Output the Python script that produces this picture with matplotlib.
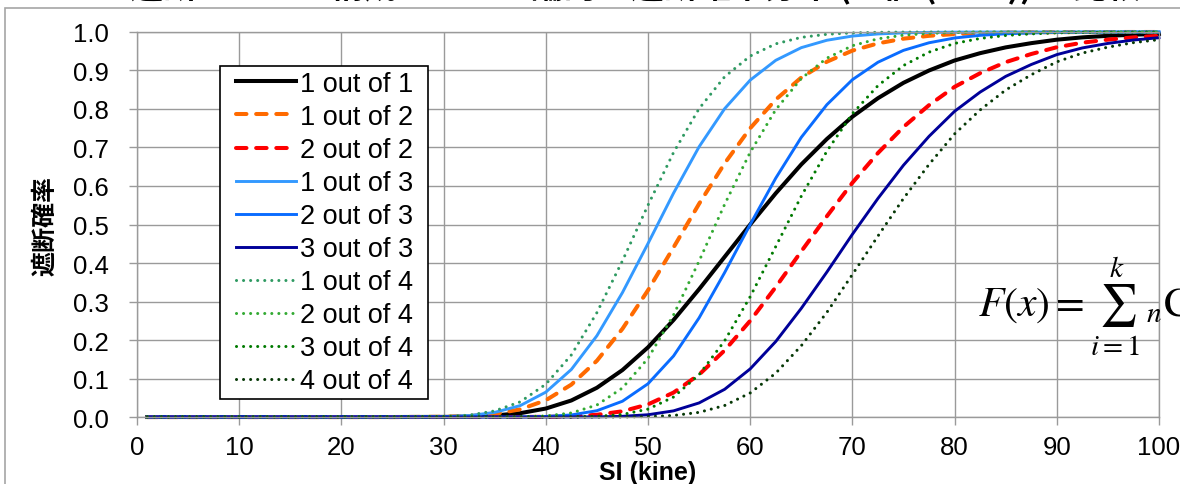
import matplotlib
matplotlib.use('Agg')
import matplotlib.pyplot as plt
from matplotlib.patches import Rectangle

plt.rcParams['font.family'] = ['Liberation Sans', 'Noto Sans CJK JP', 'DejaVu Sans']
plt.rcParams['mathtext.fontset'] = 'stix'

# --- adatok (leolvasva) ---
si = [1, 10, 20, 25, 30, 32.5, 35, 37.5, 40, 42.5, 45, 47.5, 50, 52.5, 55, 57.5, 60,
      62.5, 65, 67.5, 70, 72.5, 75, 77.5, 80, 82.5, 85, 87.5, 90, 92.5, 95, 97.5, 100]

one_of_1 = [0, 0, 0, 0, 0.0003, 0.0012, 0.004, 0.010, 0.022, 0.043, 0.076, 0.122, 0.181, 0.252,
            0.332, 0.416, 0.500, 0.581, 0.656, 0.722, 0.780, 0.828, 0.868, 0.900, 0.926, 0.945,
            0.960, 0.971, 0.980, 0.986, 0.990, 0.993, 0.995]
one_of_2 = [0, 0, 0, 0, 0.0006, 0.0024, 0.0080, 0.0199, 0.0435, 0.0842, 0.1462, 0.2291, 0.3292,
            0.4405, 0.5538, 0.6589, 0.7500, 0.8244, 0.8817, 0.9227, 0.9516, 0.9704, 0.9826, 0.9900,
            0.9945, 0.9970, 0.9984, 0.9992, 0.9996, 0.9998, 0.9999, 1.0, 1.0]
two_of_2 = [0, 0, 0, 0, 0, 0, 0.0000, 0.0001, 0.0005, 0.0018, 0.0058, 0.0149, 0.0328, 0.0635,
            0.1102, 0.1731, 0.2500, 0.3376, 0.4303, 0.5213, 0.6084, 0.6856, 0.7534, 0.8100, 0.8575,
            0.8930, 0.9216, 0.9428, 0.9604, 0.9722, 0.9801, 0.9860, 0.9900]
one_of_3 = [0, 0, 0, 0, 0.0009, 0.0036, 0.0120, 0.0297, 0.0646, 0.1235, 0.2111, 0.3232, 0.4506,
            0.5815, 0.7019, 0.8008, 0.8750, 0.9264, 0.9593, 0.9785, 0.9894, 0.9949, 0.9977, 0.9990,
            0.9996, 0.9998, 0.9999, 1.0, 1.0, 1.0, 1.0, 1.0, 1.0]
two_of_3 = [0, 0, 0, 0, 0, 0, 0.0000, 0.0003, 0.0014, 0.0054, 0.0164, 0.0410, 0.0864, 0.1585,
            0.2575, 0.3752, 0.5000, 0.6204, 0.7264, 0.8111, 0.8761, 0.9214, 0.9523, 0.9720, 0.9844,
            0.9913, 0.9953, 0.9975, 0.9988, 0.9994, 0.9997, 0.9999, 0.9999]
three_of_3 = [0, 0, 0, 0, 0, 0, 0, 0.0000, 0.0000, 0.0001, 0.0004, 0.0018, 0.0059, 0.0160,
              0.0366, 0.0720, 0.1250, 0.1961, 0.2823, 0.3764, 0.4746, 0.5677, 0.6540, 0.7290,
              0.7940, 0.8439, 0.8847, 0.9155, 0.9412, 0.9586, 0.9703, 0.9791, 0.9851]
one_of_4 = [0, 0, 0, 0, 0.0012, 0.0048, 0.0159, 0.0394, 0.0851, 0.1612, 0.2711, 0.4057, 0.5501,
            0.6870, 0.8009, 0.8837, 0.9375, 0.9692, 0.9860, 0.9940, 0.9977, 0.9991, 0.9997, 0.9999,
            1.0, 1.0, 1.0, 1.0, 1.0, 1.0, 1.0, 1.0, 1.0]
two_of_4 = [0, 0, 0, 0, 0, 0, 0.0001, 0.0006, 0.0028, 0.0105, 0.0312, 0.0754, 0.1523, 0.2651,
            0.4050, 0.5523, 0.6875, 0.7982, 0.8792, 0.9320, 0.9644, 0.9823, 0.9917, 0.9963, 0.9985,
            0.9994, 0.9997, 0.9999, 1.0, 1.0, 1.0, 1.0, 1.0]
three_of_4 = [0, 0, 0, 0, 0, 0, 0, 0.0000, 0.0000, 0.0003, 0.0017, 0.0066, 0.0205, 0.0519,
              0.1099, 0.1981, 0.3125, 0.4427, 0.5736, 0.6903, 0.7878, 0.8606, 0.9129, 0.9477,
              0.9703, 0.9832, 0.9909, 0.9951, 0.9977, 0.9988, 0.9994, 0.9997, 0.9999]
four_of_4 = [0, 0, 0, 0, 0, 0, 0, 0, 0, 0.0000, 0.0000, 0.0002, 0.0011, 0.0040, 0.0121, 0.0299,
             0.0625, 0.1139, 0.1852, 0.2717, 0.3702, 0.4700, 0.5676, 0.6561, 0.7353, 0.7975,
             0.8493, 0.8889, 0.9224, 0.9452, 0.9606, 0.9723, 0.9801]

labels = ['1 out of 1', '1 out of 2', '2 out of 2', '1 out of 3', '2 out of 3', '3 out of 3',
          '1 out of 4', '2 out of 4', '3 out of 4', '4 out of 4']
series = [one_of_1, one_of_2, two_of_2, one_of_3, two_of_3, three_of_3,
          one_of_4, two_of_4, three_of_4, four_of_4]

dot = dict(linestyle=(0, (0.01, 2.3)), lw=2.2, dash_capstyle='round')
dash = dict(linestyle=(0, (2.6, 2.4)), lw=2.9, dash_capstyle='round')
styles = [
    dict(color='black', lw=2.9),
    dict(color='#ff6a00', **dash),
    dict(color='#ff0000', **dash),
    dict(color='#3399ff', lw=2.1),
    dict(color='#0a6cff', lw=2.1),
    dict(color='#000099', lw=2.1),
    dict(color='#2f9a62', **dot),
    dict(color='#33aa33', **dot),
    dict(color='#007a00', **dot),
    dict(color='#063806', **dot),
]

fig = plt.figure(figsize=(11.8, 4.85), dpi=100)
ax = fig.add_axes([0.1161, 0.1381, 0.8661, 0.7939])

for y, lab, st in zip(series, labels, styles):
    ax.plot(si, y, label=lab, clip_on=False, **st)

ax.set_xlim(0, 100)
ax.set_ylim(0, 1)
ax.set_xticks(range(0, 101, 10))
ax.set_yticks([i / 10 for i in range(11)])
ax.set_yticklabels([f'{i / 10:.1f}' for i in range(11)])
ax.grid(True, color='#9a9a9a', lw=1.0)
ax.set_axisbelow(True)
for s in ax.spines.values():
    s.set_color('#9a9a9a')
    s.set_linewidth(1.0)
ax.tick_params(axis='both', colors='#9a9a9a', labelcolor='black', labelsize=18.5,
               length=6, width=1.0, direction='out')
ax.tick_params(axis='x', pad=7)
ax.tick_params(axis='y', pad=14)

ax.set_xlabel('SI (kine)', fontsize=18, fontweight='bold')
ax.xaxis.set_label_coords(0.5, -0.112)
ax.set_ylabel('遮断確率', fontsize=18, fontweight='bold',
              family=['Noto Sans CJK JP', 'DejaVu Sans'])
ax.yaxis.set_label_coords(-0.078, 0.5)

# jelmagyarazat: keret kulon rajzolva, hogy szelesebb legyen
ax.add_patch(Rectangle((0.0812, 0.0468), 0.2035, 0.8649, transform=ax.transAxes,
                       facecolor='white', edgecolor='black', lw=1.2, zorder=4, clip_on=False))
leg = ax.legend(loc='upper left', bbox_to_anchor=(0.089, 0.92), fontsize=19.5,
                handlelength=2.2, handletextpad=0.15, labelspacing=0.26, borderpad=0.3,
                borderaxespad=0, frameon=False)
leg.set_zorder(5)

fig.text(978 / 1180, 1 - 318 / 485, r'$F(x)=\sum_{i=1}^{k}\,{}_{n}\mathrm{C}_{i}\,p(x)^{i}\,(1-p(x))^{n-i}$',
         fontsize=30, ha='left', va='baseline')

# keret es a levagott cim
fig.add_artist(Rectangle((5 / 1180, -0.2), 2, 1.2 - 9 / 485, transform=fig.transFigure,
                         fill=False, edgecolor='#a6a6a6', lw=1.2, clip_on=False))
fig.text(130 / 1180, 1 + 2 / 485, '遮断システム構成ごとの理論的な遮断確率分布 (SI値 (kine)) の比較',
         fontsize=24, fontweight='bold', ha='left', va='baseline',
         family=['Noto Sans CJK JP', 'DejaVu Sans'])

plt.savefig('out.png', dpi=100)
